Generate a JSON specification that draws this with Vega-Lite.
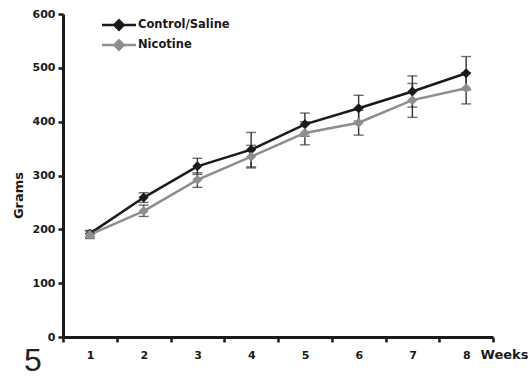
{
  "$schema": "https://vega.github.io/schema/vega-lite/v6.json",
  "width": 430,
  "height": 323,
  "autosize": "none",
  "padding": {"left": 63, "top": 14, "right": 37, "bottom": 40},
  "background": "white",
  "title": {"text": "5", "orient": "bottom", "anchor": "start", "frame": "group", "fontSize": 32, "fontWeight": "normal", "font": "Liberation Sans", "color": "#222", "dx": -39, "offset": -15},
  "config": {
    "view": {"stroke": null},
    "font": "DejaVu Sans",
    "axis": {"labelFont": "DejaVu Sans", "labelFontWeight": "bold", "labelFontSize": 11, "labelColor": "#1a1a1a", "titleFont": "DejaVu Sans", "titleFontWeight": "bold", "titleFontSize": 12.5, "titleColor": "#1a1a1a", "domainColor": "#1a1a1a", "tickColor": "#1a1a1a", "domainWidth": 3, "tickWidth": 2.5, "tickSize": 5, "grid": false}
  },
  "data": {"values": [
    {"week": 1, "group": "Control/Saline", "grams": 192, "lo": 186, "hi": 198},
    {"week": 2, "group": "Control/Saline", "grams": 259, "lo": 250, "hi": 268},
    {"week": 3, "group": "Control/Saline", "grams": 317, "lo": 302, "hi": 332},
    {"week": 4, "group": "Control/Saline", "grams": 348, "lo": 316, "hi": 380},
    {"week": 5, "group": "Control/Saline", "grams": 395, "lo": 373, "hi": 416},
    {"week": 6, "group": "Control/Saline", "grams": 425, "lo": 401, "hi": 449},
    {"week": 7, "group": "Control/Saline", "grams": 456, "lo": 427, "hi": 485},
    {"week": 8, "group": "Control/Saline", "grams": 490, "lo": 459, "hi": 521},
    {"week": 1, "group": "Nicotine", "grams": 190, "lo": 183, "hi": 197},
    {"week": 2, "group": "Nicotine", "grams": 234, "lo": 224, "hi": 245},
    {"week": 3, "group": "Nicotine", "grams": 292, "lo": 278, "hi": 305},
    {"week": 4, "group": "Nicotine", "grams": 335, "lo": 314, "hi": 356},
    {"week": 5, "group": "Nicotine", "grams": 379, "lo": 357, "hi": 400},
    {"week": 6, "group": "Nicotine", "grams": 398, "lo": 375, "hi": 421},
    {"week": 7, "group": "Nicotine", "grams": 440, "lo": 408, "hi": 471},
    {"week": 8, "group": "Nicotine", "grams": 462, "lo": 433, "hi": 491}
  ]},
  "layer": [
    {
      "mark": {"type": "errorbar", "ticks": {"size": 10, "thickness": 1.4}, "rule": {"strokeWidth": 1.4}, "color": "#333"},
      "encoding": {
        "x": {"field": "week", "type": "quantitative"},
        "y": {"field": "lo", "type": "quantitative", "title": "Grams"},
        "y2": {"field": "hi"}
      }
    },
    {
      "mark": {"type": "line", "strokeWidth": 2.5},
      "encoding": {
        "x": {"field": "week", "type": "quantitative", "scale": {"domain": [0.5, 8.5], "nice": false, "zero": false},
          "axis": {"values": [0.5, 1.5, 2.5, 3.5, 4.5, 5.5, 6.5, 7.5, 8.5], "labelExpr": "datum.value < 8 ? format(datum.value + 0.5, 'd') : ''", "labelOffset": 27, "labelPadding": 7, "labelBound": false, "labelOverlap": false, "labelFlush": false,
            "title": "Weeks", "titleAnchor": "start", "titleAlign": "left", "titleX": 417, "titleY": 11, "titleBaseline": "top", "titleFontSize": 13}},
        "y": {"field": "grams", "type": "quantitative", "title": "Grams", "scale": {"domain": [0, 600]},
          "axis": {"values": [0, 100, 200, 300, 400, 500, 600], "labelPadding": 3, "title": "Grams", "titleX": -45, "titleY": 181, "titleAngle": -90, "titleBaseline": "middle", "titleAlign": "center", "titleFontSize": 13}},
        "color": {"field": "group", "type": "nominal", "scale": {"domain": ["Control/Saline", "Nicotine"], "range": ["#1a1a1a", "#8e8e8e"]},
          "legend": {"title": null, "orient": "none", "legendX": 46, "legendY": 1, "symbolType": "M-2,0H2M0,-0.55L0.55,0L0,0.55L-0.55,0Z", "symbolSize": 289, "rowPadding": -3, "labelFont": "DejaVu Sans", "labelFontWeight": "bold", "labelFontSize": 11.5, "labelColor": "#1a1a1a", "labelOffset": 9,
            "encode": {"symbols": {"update": {"stroke": {"scale": "color", "field": "value"}, "fill": {"scale": "color", "field": "value"}, "strokeWidth": {"value": 2.5}, "opacity": {"value": 1}}}}}}
      }
    },
    {
      "mark": {"type": "point", "shape": "diamond", "filled": true, "size": 100, "opacity": 1},
      "encoding": {
        "x": {"field": "week", "type": "quantitative"},
        "y": {"field": "grams", "type": "quantitative"},
        "color": {"field": "group", "type": "nominal"}
      }
    }
  ]
}
